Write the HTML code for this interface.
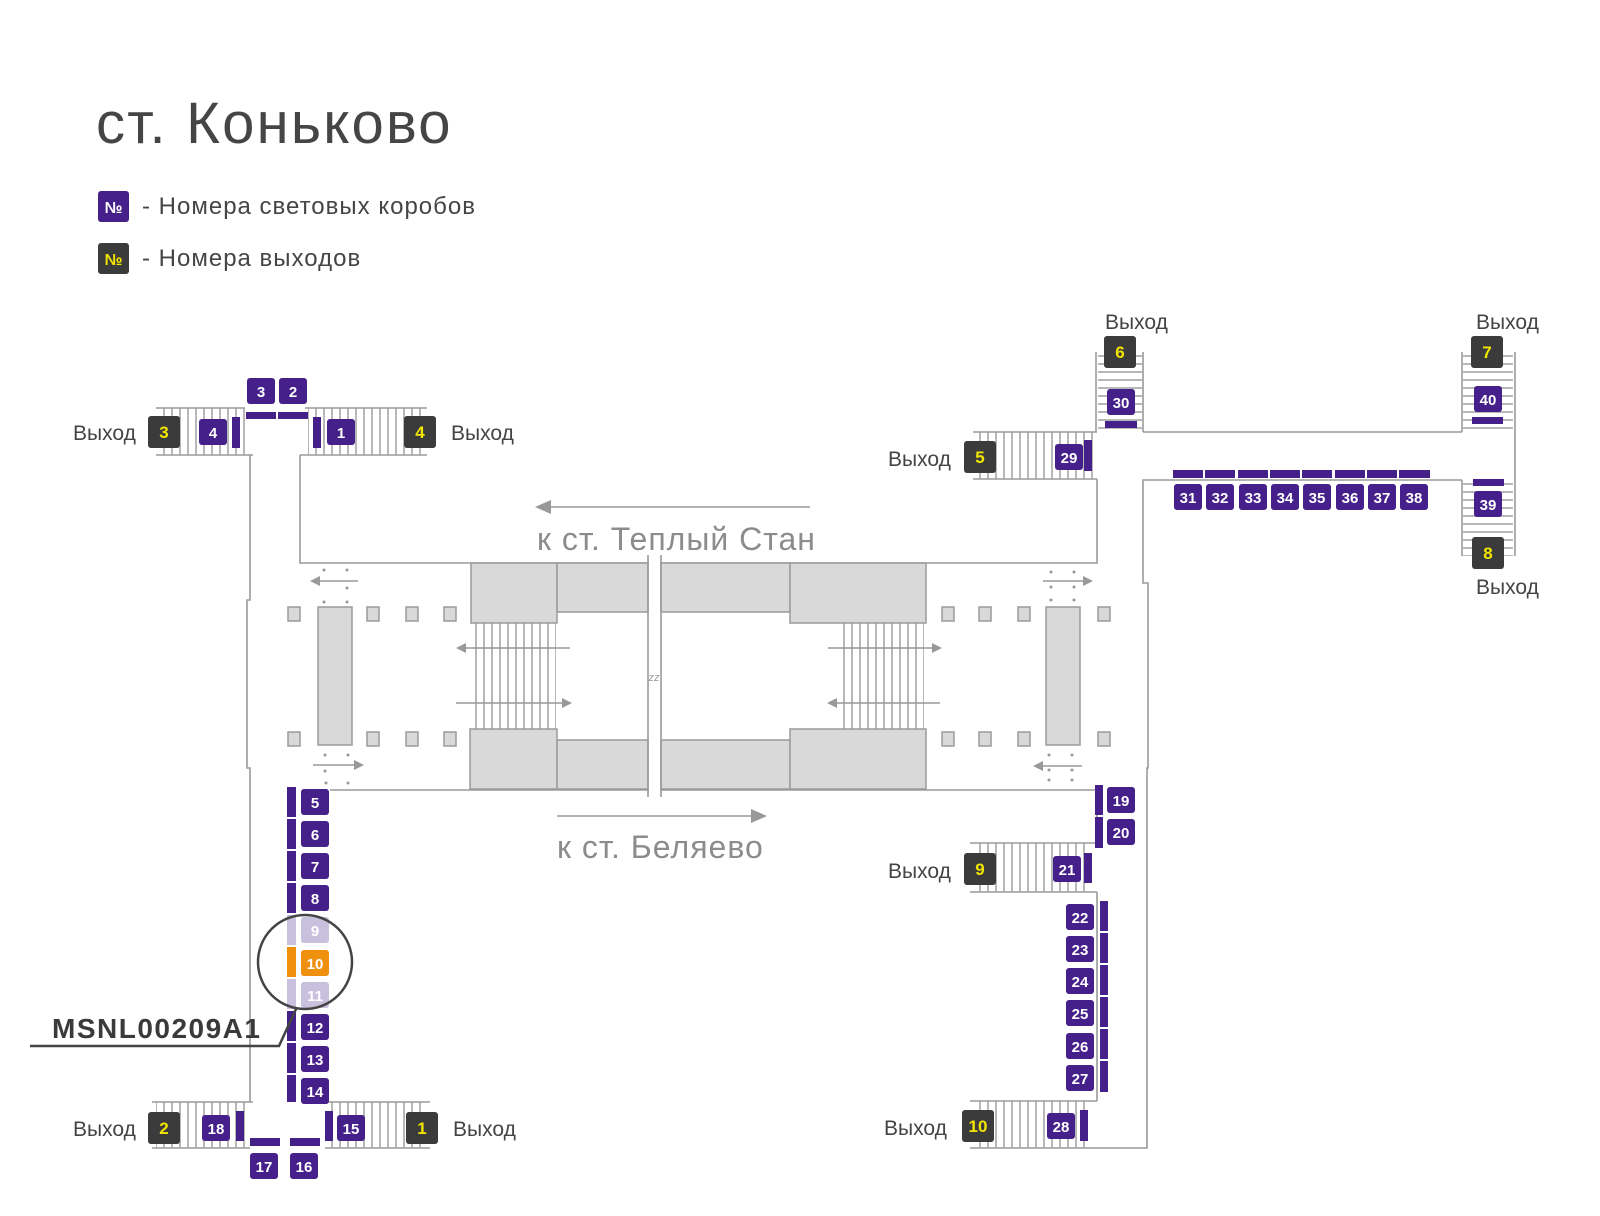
<!DOCTYPE html>
<html><head><meta charset="utf-8"><style>
html,body{margin:0;padding:0;background:#fff;}
svg{display:block;font-family:"Liberation Sans","DejaVu Sans",sans-serif;}
.w{fill:none;stroke:#9a9a9a;stroke-width:1.6}
.g{fill:#d9d9d9;stroke:#9a9a9a;stroke-width:1.5}
.p{fill:#46208a}
.d{fill:#3b3b3b}
.pt{fill:#fff;font-size:15px;font-weight:bold;text-anchor:middle}
.dt{fill:#f2e600;font-size:17px;font-weight:bold;text-anchor:middle}
.ex{fill:#444;font-size:21px}
</style></head><body>
<svg width="1600" height="1216" viewBox="0 0 1600 1216" xmlns="http://www.w3.org/2000/svg">
<defs>
<pattern id="vr" width="8" height="10" patternUnits="userSpaceOnUse"><line x1="4" y1="0" x2="4" y2="10" stroke="#9a9a9a" stroke-width="1.4"/></pattern>
<pattern id="hr" width="10" height="8" patternUnits="userSpaceOnUse"><line x1="0" y1="4" x2="10" y2="4" stroke="#9a9a9a" stroke-width="1.4"/></pattern>
<marker id="ah" markerWidth="10" markerHeight="10" refX="8" refY="5" orient="auto" markerUnits="userSpaceOnUse"><path d="M0,0 L10,5 L0,10 z" fill="#999"/></marker>
<marker id="ahb" markerWidth="16" markerHeight="14" refX="14" refY="7" orient="auto" markerUnits="userSpaceOnUse"><path d="M0,0 L16,7 L0,14 z" fill="#999"/></marker>
</defs>

<!-- Title & legend -->
<text x="96" y="143" font-size="58" letter-spacing="2.2" fill="#454545">ст. Коньково</text>
<rect x="98" y="191" width="31" height="31" rx="3" class="p"/>
<text x="113.5" y="213" font-size="16" font-weight="bold" fill="#fff" text-anchor="middle">№</text>
<text x="142" y="214" font-size="24" letter-spacing="1" fill="#454545">- Номера световых коробов</text>
<rect x="98" y="243" width="31" height="31" rx="3" class="d"/>
<text x="113.5" y="265" font-size="16" font-weight="bold" fill="#f2e600" text-anchor="middle">№</text>
<text x="142" y="266" font-size="24" letter-spacing="1" fill="#454545">- Номера выходов</text>

<!-- Stairs -->
<rect x="160" y="408" width="85" height="47" fill="url(#vr)"/>
<path class="w" d="M156,408H245M156,455H253"/>
<rect x="308" y="408" width="115" height="47" fill="url(#vr)"/>
<path class="w" d="M305,408H427M300,455H427"/>
<rect x="156" y="1102" width="91" height="46" fill="url(#vr)"/>
<path class="w" d="M152,1102H253M152,1148H250"/>
<rect x="328" y="1102" width="99" height="46" fill="url(#vr)"/>
<path class="w" d="M322,1102H430M325,1148H430"/>
<rect x="976" y="432" width="118" height="47" fill="url(#vr)"/>
<path class="w" d="M973,432H1097M973,479H1097"/>
<rect x="973" y="843" width="118" height="49" fill="url(#vr)"/>
<path class="w" d="M970,843H1095M970,892H1097"/>
<rect x="973" y="1101" width="118" height="47" fill="url(#vr)"/>
<path class="w" d="M970,1101H1097M970,1148H1093"/>
<rect x="1098" y="352" width="44" height="80" fill="url(#hr)"/>
<path class="w" d="M1096,352V432M1143,352V432"/>
<rect x="1463" y="352" width="50" height="80" fill="url(#hr)"/>
<rect x="1463" y="480" width="50" height="76" fill="url(#hr)"/>
<path class="w" d="M1462,352V432M1515,352V556M1462,480V556"/>

<!-- Walls -->
<path class="w" d="M250,455V600H247V768H250V1102"/>
<path class="w" d="M300,455V563H1097V479"/>
<path class="w" d="M330,790H1097V843"/>
<path class="w" d="M1097,892V1101"/>
<path class="w" d="M1143,432H1462"/>
<path class="w" d="M1462,480H1143V583H1148V768H1147V1148H1093"/>

<!-- Hall: pillars -->
<g class="g">
<rect x="288" y="607" width="12" height="14"/><rect x="367" y="607" width="12" height="14"/><rect x="406" y="607" width="12" height="14"/><rect x="444" y="607" width="12" height="14"/>
<rect x="288" y="732" width="12" height="14"/><rect x="367" y="732" width="12" height="14"/><rect x="406" y="732" width="12" height="14"/><rect x="444" y="732" width="12" height="14"/>
<rect x="942" y="607" width="12" height="14"/><rect x="979" y="607" width="12" height="14"/><rect x="1018" y="607" width="12" height="14"/><rect x="1098" y="607" width="12" height="14"/>
<rect x="942" y="732" width="12" height="14"/><rect x="979" y="732" width="12" height="14"/><rect x="1018" y="732" width="12" height="14"/><rect x="1098" y="732" width="12" height="14"/>
<rect x="318" y="607" width="34" height="138"/>
<rect x="1046" y="607" width="34" height="138"/>
<rect x="471" y="563" width="86" height="60"/><rect x="557" y="563" width="91" height="49"/>
<rect x="661" y="563" width="129" height="49"/><rect x="790" y="563" width="136" height="60"/>
<rect x="470" y="729" width="87" height="60"/><rect x="557" y="740" width="91" height="49"/>
<rect x="661" y="740" width="129" height="49"/><rect x="790" y="729" width="136" height="60"/>
</g>
<rect x="474" y="623" width="82" height="106" fill="url(#vr)"/>
<rect x="842" y="623" width="82" height="106" fill="url(#vr)"/>
<rect x="649" y="555" width="11" height="242" fill="#fff"/>
<path class="w" d="M648,555V797M661,555V797"/>
<text x="654" y="681" font-size="11" font-style="italic" fill="#999" text-anchor="middle">zz</text>

<!-- hall arrows -->
<g stroke="#999" stroke-width="1.5">
<line x1="570" y1="648" x2="458" y2="648" marker-end="url(#ah)"/>
<line x1="456" y1="703" x2="570" y2="703" marker-end="url(#ah)"/>
<line x1="828" y1="648" x2="940" y2="648" marker-end="url(#ah)"/>
<line x1="940" y1="703" x2="829" y2="703" marker-end="url(#ah)"/>
<line x1="358" y1="581" x2="312" y2="581" marker-end="url(#ah)"/>
<line x1="313" y1="765" x2="362" y2="765" marker-end="url(#ah)"/>
<line x1="1043" y1="581" x2="1091" y2="581" marker-end="url(#ah)"/>
<line x1="1082" y1="766" x2="1035" y2="766" marker-end="url(#ah)"/>
<line x1="810" y1="507" x2="537" y2="507" marker-end="url(#ahb)"/>
<line x1="557" y1="816" x2="765" y2="816" marker-end="url(#ahb)"/>
</g>
<g fill="#999">
<circle cx="324" cy="570" r="1.5"/><circle cx="347" cy="570" r="1.5"/><circle cx="347" cy="588" r="1.5"/><circle cx="324" cy="602" r="1.5"/><circle cx="347" cy="602" r="1.5"/>
<circle cx="325" cy="755" r="1.5"/><circle cx="348" cy="755" r="1.5"/><circle cx="325" cy="771" r="1.5"/><circle cx="326" cy="783" r="1.5"/><circle cx="348" cy="783" r="1.5"/>
<circle cx="1051" cy="572" r="1.5"/><circle cx="1074" cy="572" r="1.5"/><circle cx="1051" cy="587" r="1.5"/><circle cx="1074" cy="587" r="1.5"/><circle cx="1051" cy="600" r="1.5"/><circle cx="1074" cy="600" r="1.5"/>
<circle cx="1049" cy="755" r="1.5"/><circle cx="1072" cy="755" r="1.5"/><circle cx="1049" cy="770" r="1.5"/><circle cx="1072" cy="770" r="1.5"/><circle cx="1049" cy="780" r="1.5"/><circle cx="1072" cy="780" r="1.5"/>
</g>
<text x="537" y="550" font-size="32" letter-spacing="1" fill="#8c8c8c">к ст. Теплый Стан</text>
<text x="557" y="858" font-size="32" letter-spacing="1" fill="#8c8c8c">к ст. Беляево</text>

<!-- Exit labels -->
<g class="ex">
<text x="73" y="440">Выход</text><text x="451" y="440">Выход</text>
<text x="73" y="1136">Выход</text><text x="453" y="1136">Выход</text>
<text x="888" y="466">Выход</text><text x="1105" y="329">Выход</text>
<text x="1476" y="329">Выход</text><text x="1476" y="594">Выход</text>
<text x="888" y="878">Выход</text><text x="884" y="1135">Выход</text>
</g>

<!-- Exit boxes -->
<g class="d">
<rect x="148" y="416" width="32" height="32" rx="3"/><rect x="404" y="416" width="32" height="32" rx="3"/>
<rect x="148" y="1112" width="32" height="32" rx="3"/><rect x="406" y="1112" width="32" height="32" rx="3"/>
<rect x="964" y="441" width="32" height="32" rx="3"/><rect x="1104" y="336" width="32" height="32" rx="3"/>
<rect x="1471" y="336" width="32" height="32" rx="3"/><rect x="1472" y="537" width="32" height="32" rx="3"/>
<rect x="964" y="853" width="32" height="32" rx="3"/><rect x="962" y="1110" width="32" height="32" rx="3"/>
</g>
<g class="dt">
<text x="164" y="438">3</text><text x="420" y="438">4</text>
<text x="164" y="1134">2</text><text x="422" y="1134">1</text>
<text x="980" y="463">5</text><text x="1120" y="358">6</text>
<text x="1487" y="358">7</text><text x="1488" y="559">8</text>
<text x="980" y="875">9</text><text x="978" y="1132">10</text>
</g>

<!-- Purple bars -->
<g class="p">
<rect x="246" y="412" width="30" height="7"/><rect x="278" y="412" width="30" height="7"/>
<rect x="232" y="417" width="8" height="31"/><rect x="313" y="417" width="8" height="31"/>
<rect x="287" y="787" width="9" height="30"/><rect x="287" y="819" width="9" height="30"/><rect x="287" y="851" width="9" height="30"/><rect x="287" y="883" width="9" height="30"/>
<rect x="287" y="1011" width="9" height="30"/><rect x="287" y="1043" width="9" height="30"/><rect x="287" y="1075" width="9" height="27"/>
<rect x="236" y="1111" width="8" height="30"/><rect x="325" y="1111" width="8" height="30"/>
<rect x="250" y="1138" width="30" height="8"/><rect x="290" y="1138" width="30" height="8"/>
<rect x="1105" y="421" width="32" height="7"/><rect x="1472" y="417" width="31" height="7"/><rect x="1473" y="479" width="31" height="7"/>
<rect x="1084" y="440" width="8" height="31"/>
<rect x="1173" y="470" width="30" height="8"/><rect x="1205" y="470" width="30" height="8"/><rect x="1238" y="470" width="30" height="8"/><rect x="1270" y="470" width="30" height="8"/><rect x="1302" y="470" width="30" height="8"/><rect x="1335" y="470" width="30" height="8"/><rect x="1367" y="470" width="30" height="8"/><rect x="1399" y="470" width="31" height="8"/>
<rect x="1095" y="785" width="8" height="30"/><rect x="1095" y="817" width="8" height="31"/>
<rect x="1084" y="853" width="8" height="30"/>
<rect x="1100" y="901" width="8" height="30"/><rect x="1100" y="933" width="8" height="30"/><rect x="1100" y="965" width="8" height="30"/><rect x="1100" y="997" width="8" height="30"/><rect x="1100" y="1029" width="8" height="30"/><rect x="1100" y="1061" width="8" height="31"/>
<rect x="1080" y="1110" width="8" height="31"/>
</g>
<rect x="287" y="915" width="9" height="30" fill="#c9c0dd"/>
<rect x="287" y="947" width="9" height="30" fill="#f0900f"/>
<rect x="287" y="979" width="9" height="30" fill="#c9c0dd"/>

<!-- Purple boxes -->
<g class="p">
<rect x="247" y="378" width="28" height="26" rx="3"/><rect x="279" y="378" width="28" height="26" rx="3"/>
<rect x="199" y="419" width="28" height="26" rx="3"/><rect x="327" y="419" width="28" height="26" rx="3"/>
<rect x="301" y="789" width="28" height="26" rx="3"/><rect x="301" y="821" width="28" height="26" rx="3"/><rect x="301" y="853" width="28" height="26" rx="3"/><rect x="301" y="885" width="28" height="26" rx="3"/>
<rect x="301" y="1014" width="28" height="26" rx="3"/><rect x="301" y="1046" width="28" height="26" rx="3"/><rect x="301" y="1078" width="28" height="26" rx="3"/>
<rect x="202" y="1115" width="28" height="26" rx="3"/><rect x="337" y="1115" width="28" height="26" rx="3"/>
<rect x="250" y="1153" width="28" height="26" rx="3"/><rect x="290" y="1153" width="28" height="26" rx="3"/>
<rect x="1107" y="389" width="28" height="26" rx="3"/><rect x="1474" y="386" width="28" height="26" rx="3"/><rect x="1474" y="491" width="28" height="26" rx="3"/>
<rect x="1055" y="444" width="28" height="26" rx="3"/>
<rect x="1174" y="484" width="28" height="26" rx="3"/><rect x="1206" y="484" width="28" height="26" rx="3"/><rect x="1239" y="484" width="28" height="26" rx="3"/><rect x="1271" y="484" width="28" height="26" rx="3"/><rect x="1303" y="484" width="28" height="26" rx="3"/><rect x="1336" y="484" width="28" height="26" rx="3"/><rect x="1368" y="484" width="28" height="26" rx="3"/><rect x="1400" y="484" width="28" height="26" rx="3"/>
<rect x="1107" y="787" width="28" height="26" rx="3"/><rect x="1107" y="819" width="28" height="26" rx="3"/>
<rect x="1053" y="856" width="28" height="26" rx="3"/>
<rect x="1066" y="904" width="28" height="26" rx="3"/><rect x="1066" y="936" width="28" height="26" rx="3"/><rect x="1066" y="968" width="28" height="26" rx="3"/><rect x="1066" y="1000" width="28" height="26" rx="3"/><rect x="1066" y="1033" width="28" height="26" rx="3"/><rect x="1066" y="1065" width="28" height="26" rx="3"/>
<rect x="1047" y="1113" width="28" height="26" rx="3"/>
</g>
<rect x="301" y="917" width="28" height="26" rx="3" fill="#c9c0dd"/>
<rect x="301" y="950" width="28" height="26" rx="3" fill="#f0900f"/>
<rect x="301" y="982" width="28" height="26" rx="3" fill="#c9c0dd"/>
<g class="pt">
<text x="261" y="397">3</text><text x="293" y="397">2</text>
<text x="213" y="438">4</text><text x="341" y="438">1</text>
<text x="315" y="808">5</text><text x="315" y="840">6</text><text x="315" y="872">7</text><text x="315" y="904">8</text>
<text x="315" y="936">9</text><text x="315" y="969">10</text><text x="315" y="1001">11</text>
<text x="315" y="1033">12</text><text x="315" y="1065">13</text><text x="315" y="1097">14</text>
<text x="216" y="1134">18</text><text x="351" y="1134">15</text>
<text x="264" y="1172">17</text><text x="304" y="1172">16</text>
<text x="1121" y="408">30</text><text x="1488" y="405">40</text><text x="1488" y="510">39</text>
<text x="1069" y="463">29</text>
<text x="1188" y="503">31</text><text x="1220" y="503">32</text><text x="1253" y="503">33</text><text x="1285" y="503">34</text><text x="1317" y="503">35</text><text x="1350" y="503">36</text><text x="1382" y="503">37</text><text x="1414" y="503">38</text>
<text x="1121" y="806">19</text><text x="1121" y="838">20</text>
<text x="1067" y="875">21</text>
<text x="1080" y="923">22</text><text x="1080" y="955">23</text><text x="1080" y="987">24</text><text x="1080" y="1019">25</text><text x="1080" y="1052">26</text><text x="1080" y="1084">27</text>
<text x="1061" y="1132">28</text>
</g>

<!-- Highlight -->
<circle cx="305" cy="962" r="47" fill="none" stroke="#444" stroke-width="2.5"/>
<path d="M296,1009L279,1046H30" fill="none" stroke="#444" stroke-width="2.5"/>
<text x="52" y="1038" font-size="28" font-weight="bold" letter-spacing="1.5" fill="#3a3a3a">MSNL00209A1</text>
</svg>
</body></html>
